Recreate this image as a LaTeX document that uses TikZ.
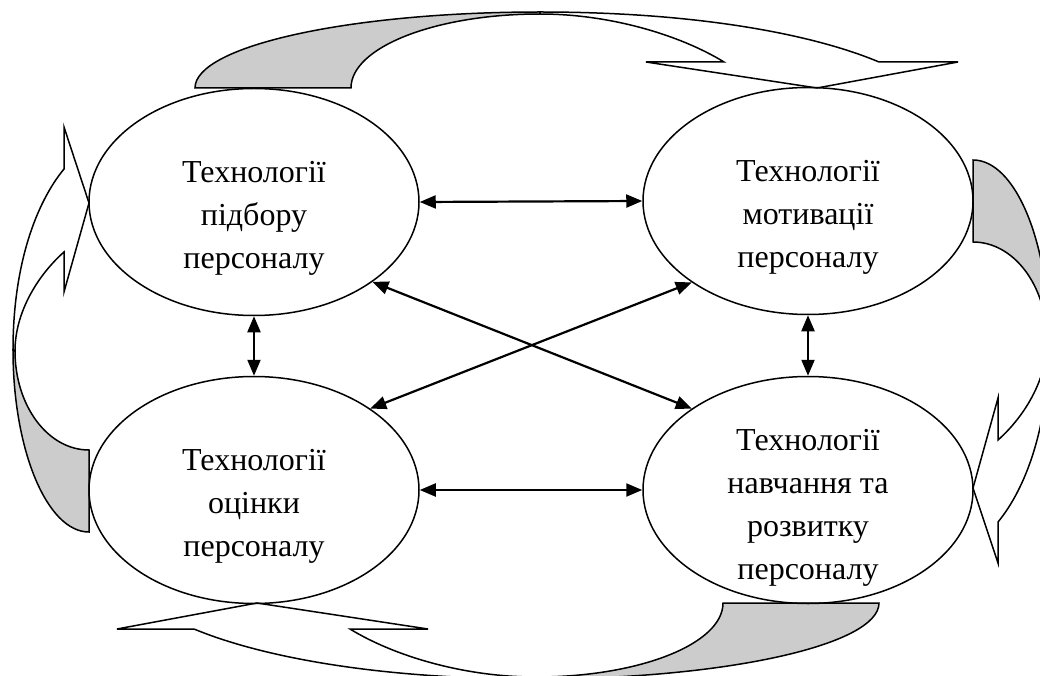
\documentclass[tikz,border=0pt]{standalone}
\usepackage{fontspec}
\setmainfont{Liberation Serif}
\usepackage{xcolor}
\usetikzlibrary{arrows.meta,shapes.geometric}
\definecolor{tailgrey}{HTML}{CCCCCC}

\begin{document}
\begin{tikzpicture}[
    x=1pt, y=-1pt,
    tech/.style={ellipse, draw=black, line width=1.5pt, minimum width=330pt, minimum height=227pt, inner sep=0pt},
    techtext/.style={align=center, font=\fontsize{32}{43}\selectfont},
    link/.style={{Triangle[length=16pt,width=13pt]}-{Triangle[length=16pt,width=13pt]}, line width=2.2pt},
    band/.style={draw=black, line width=1.5pt},
    tail/.style={band, fill=tailgrey}
]
\useasboundingbox (0,0) rectangle (1040,676);
\clip (0,0) rectangle (1040,676);

% curved arrows round the four blocks
\path[tail] (195,88) -- (351,88) .. controls (351,47) and (436,14) .. (540,14) -- (540,12) .. controls (350,12) and (195,46) .. (195,88) -- cycle;
\path[band] (540,14) .. controls (610,14) and (680,35) .. (724,62) -- (646,62) -- (817,88) -- (958,62) -- (879,62) .. controls (815,35) and (700,12) .. (540,12) -- cycle;

\path[tail] (973,160) -- (973,242) .. controls (1014,242) and (1047,286) .. (1047,341) -- (1049,341) .. controls (1049,241) and (1015,160) .. (973,160) -- cycle;
\path[band] (1047,341) .. controls (1047,379) and (1025,416) .. (998,440) -- (998,398) -- (973,488) -- (998,563) -- (998,522) .. controls (1026,488) and (1049,426) .. (1049,341) -- cycle;

\path[tail] (879,603) -- (723,603) .. controls (723,644) and (639,677) .. (536,677) -- (536,679) .. controls (725,679) and (879,645) .. (879,603) -- cycle;
\path[band] (536,677) .. controls (464,677) and (394,656) .. (350,629) -- (428,629) -- (257,603) -- (117,629) -- (194,629) .. controls (259,656) and (374,679) .. (536,679) -- cycle;

\path[tail] (89,532) -- (89,450) .. controls (48,450) and (15,406) .. (15,351) -- (13,350) .. controls (13,450) and (47,532) .. (89,532) -- cycle;
\path[band] (15,351) .. controls (15,313) and (37,276) .. (64,252) -- (64,292) -- (89,203) -- (64,127) -- (64,169) .. controls (36,203) and (13,265) .. (13,350) -- cycle;

\node[tech] (pidbir) at (254,202) {};
\node[tech] (motyv) at (808,201) {};
\node[tech] (otsinka) at (254,490) {};
\node[tech] (navch) at (808,490) {};

\node[techtext] (pidbir-text) at ([yshift=-16pt]pidbir.center) {Технології\\підбору\\персоналу};
\node[techtext] (motyv-text) at ([yshift=-16pt]motyv.center) {Технології\\мотивації\\персоналу};
\node[techtext] (otsinka-text) at ([yshift=-16pt]otsinka.center) {Технології\\оцінки\\персоналу};
\node[techtext] (navch-text) at ([yshift=-18pt]navch.center) {Технології\\навчання та\\розвитку\\персоналу};

\draw[link] (pidbir.east) -- (motyv.west);
\draw[link] (otsinka.east) -- (navch.west);
\draw[link] (pidbir.south) -- (otsinka.north);
\draw[link] (motyv.south) -- (navch.north);
\draw[link] (pidbir.-34) -- (navch.145);
\draw[link] (motyv.-145) -- (otsinka.35);
\end{tikzpicture}
\end{document}
